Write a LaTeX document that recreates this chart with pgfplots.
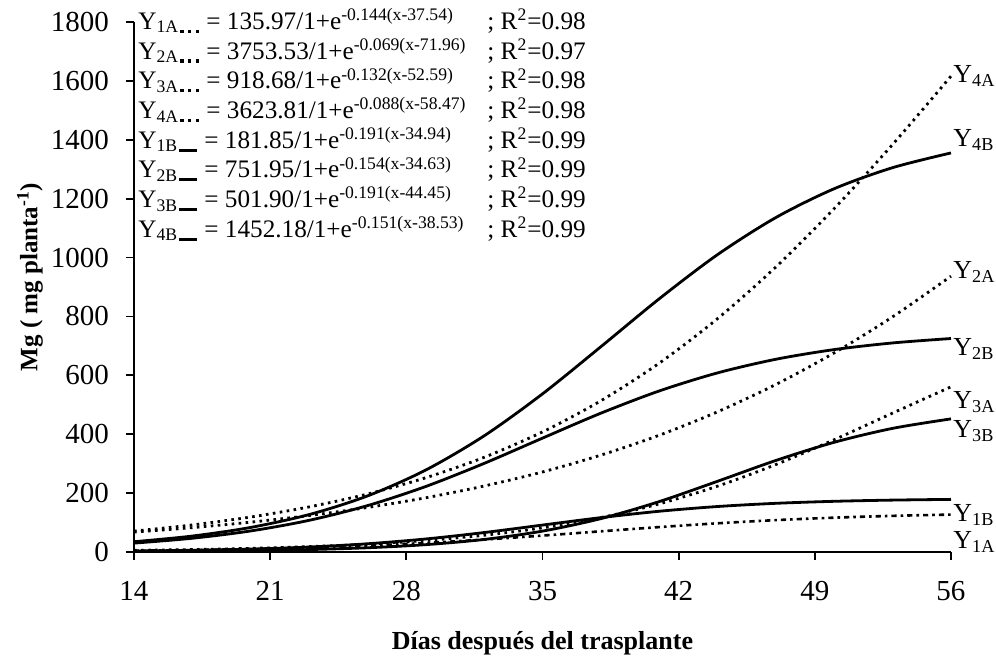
\documentclass[border=0pt]{standalone}
\usepackage{fontspec}
\setmainfont{Liberation Serif}
\usepackage{pgfplots}
\pgfplotsset{compat=1.18}
\newcommand{\dA}{\hspace{1pt}\rule{1.7pt}{1.7pt}\hspace{2.2pt}\rule{1.7pt}{1.7pt}\hspace{2.2pt}\rule{1.7pt}{1.7pt}}
\newcommand{\dB}{\hspace{1pt}\rule{9pt}{1.5pt}}
\newcommand{\eqfont}{\fontsize{12.6}{14}\selectfont}
\newcommand{\lblfont}{\fontsize{13}{15}\selectfont}
\newcommand{\tickfont}{\fontsize{14.5}{17}\selectfont}
\begin{document}
\begin{tikzpicture}
\begin{axis}[
  width=408.5pt, height=265pt, scale only axis,
  xmin=14, xmax=56, ymin=0, ymax=1800,
  xtick={14,21,28,35,42,49,56},
  ytick={0,200,400,600,800,1000,1200,1400,1600,1800},
  axis lines*=left,
  axis line style={line width=1pt},
  tick align=outside,
  major tick length=4pt,
  tick style={black, line width=0.9pt},
  ticklabel style={font=\tickfont},
  /pgf/number format/assume math mode=true,
  /pgf/number format/1000 sep={},
  xticklabel style={yshift=-7pt},
  yticklabel style={xshift=-5pt},
  xlabel={\textbf{Días después del trasplante}},
  ylabel={\textbf{Mg ( mg planta\textsuperscript{-1})}},
  xlabel style={font=\fontsize{13}{15}\selectfont, at={(axis description cs:0.5,0)}, anchor=center, yshift=-45.5pt},
  ylabel style={font=\fontsize{12.5}{14}\selectfont, at={(axis description cs:0,0.5)}, anchor=center, yshift=52pt, xshift=5pt},
  clip=false,
  solidB/.style={black, line width=1.4pt, smooth},
  dotA/.style={black, line width=1.4pt, dash pattern=on 1.3pt off 2.2pt, smooth},
]
% A series (dotted)
\addplot[black, line width=1.3pt, dash pattern=on 2.6pt off 2pt on 1.3pt off 2pt, smooth] coordinates {(14,4.43)(17,6.71)(20,10.07)(23,14.91)(26,21.69)(29,30.76)(32,42.21)(35,55.68)(38,70.23)(41,84.57)(44,97.50)(47,108.25)(50,116.58)(53,122.73)(56,127.06)};
\addplot[dotA] coordinates {(14,67.57)(17,82.77)(20,101.31)(23,123.84)(26,151.17)(29,184.18)(32,224.09)(35,271.8)(38,328.97)(41,396.5)(44,476.2)(47,569.1)(50,676.4)(53,798.8)(56,936.7)};
\addplot[dotA] coordinates {(14,5.60)(17,8.30)(20,12.27)(23,18.12)(26,26.67)(29,39.08)(32,56.88)(35,82.05)(38,116.85)(41,163.52)(44,223.63)(47,297.1)(50,381.5)(53,471.8)(56,561.0)};
\addplot[dotA] coordinates {(14,70.99)(17,91.88)(20,118.74)(23,153.1)(26,196.8)(29,252.2)(32,321.6)(35,407.8)(38,513.6)(41,641.3)(44,792.6)(47,968.2)(50,1166.7)(53,1384.2)(56,1616.0)};
% B series (solid)
\addplot[solidB] coordinates {(14,3.27)(17,5.72)(20,9.90)(23,16.86)(26,27.90)(29,44.23)(32,66.05)(35,91.45)(38,116.75)(41,138.35)(44,154.46)(47,165.33)(50,172.14)(53,176.25)(56,178.65)};
\addplot[solidB] coordinates {(14,30.11)(17,46.70)(20,71.50)(23,107.48)(26,157.4)(29,222.5)(32,300.9)(35,386.7)(38,471.4)(41,546.9)(44,608.3)(47,654.6)(50,687.5)(53,710.0)(56,725.0)};
\addplot[solidB] coordinates {(14,1.49)(17,2.64)(20,4.66)(23,8.21)(26,14.37)(29,24.93)(32,42.60)(35,70.89)(38,113.35)(41,171.1)(44,240.2)(47,310.9)(50,372.7)(53,419.9)(56,452.1)};
\addplot[solidB] coordinates {(14,34.90)(17,54.15)(20,83.41)(23,127.0)(26,190.3)(29,278.4)(32,394.5)(35,537.0)(38,697.1)(41,859.9)(44,1010.0)(47,1136.0)(50,1233.9)(53,1305.3)(56,1355.3)};
% right-hand labels
\node[anchor=west, inner sep=1pt, font=\lblfont] at (axis cs:56,1616) {Y\textsubscript{4A}};
\node[anchor=west, inner sep=1pt, font=\lblfont] at (axis cs:56,1400) {Y\textsubscript{4B}};
\node[anchor=west, inner sep=1pt, font=\lblfont] at (axis cs:56,950) {Y\textsubscript{2A}};
\node[anchor=west, inner sep=1pt, font=\lblfont] at (axis cs:56,690) {Y\textsubscript{2B}};
\node[anchor=west, inner sep=1pt, font=\lblfont] at (axis cs:56,510) {Y\textsubscript{3A}};
\node[anchor=west, inner sep=1pt, font=\lblfont] at (axis cs:56,410) {Y\textsubscript{3B}};
\node[anchor=west, inner sep=1pt, font=\lblfont] at (axis cs:56,125) {Y\textsubscript{1B}};
\node[anchor=west, inner sep=1pt, font=\lblfont] at (axis cs:56,35) {Y\textsubscript{1A}};
% equations
\node[anchor=base west, inner sep=0pt, font=\eqfont, xshift=2pt] at (axis cs:14,1775) {Y\textsubscript{1A\dA} = 135.97/1+e\textsuperscript{-0.144(x-37.54)}};
\node[anchor=base west, inner sep=0pt, font=\eqfont, xshift=2pt] at (axis cs:14,1674) {Y\textsubscript{2A\dA} = 3753.53/1+e\textsuperscript{-0.069(x-71.96)}};
\node[anchor=base west, inner sep=0pt, font=\eqfont, xshift=2pt] at (axis cs:14,1573) {Y\textsubscript{3A\dA} = 918.68/1+e\textsuperscript{-0.132(x-52.59)}};
\node[anchor=base west, inner sep=0pt, font=\eqfont, xshift=2pt] at (axis cs:14,1472) {Y\textsubscript{4A\dA} = 3623.81/1+e\textsuperscript{-0.088(x-58.47)}};
\node[anchor=base west, inner sep=0pt, font=\eqfont, xshift=2pt] at (axis cs:14,1372) {Y\textsubscript{1B\dB} = 181.85/1+e\textsuperscript{-0.191(x-34.94)}};
\node[anchor=base west, inner sep=0pt, font=\eqfont, xshift=2pt] at (axis cs:14,1271) {Y\textsubscript{2B\dB} = 751.95/1+e\textsuperscript{-0.154(x-34.63)}};
\node[anchor=base west, inner sep=0pt, font=\eqfont, xshift=2pt] at (axis cs:14,1170) {Y\textsubscript{3B\dB} = 501.90/1+e\textsuperscript{-0.191(x-44.45)}};
\node[anchor=base west, inner sep=0pt, font=\eqfont, xshift=2pt] at (axis cs:14,1069) {Y\textsubscript{4B\dB} = 1452.18/1+e\textsuperscript{-0.151(x-38.53)}};
\node[anchor=base west, inner sep=0pt, font=\eqfont] at (axis cs:32.15,1775) {; R\textsuperscript{2}=0.98};
\node[anchor=base west, inner sep=0pt, font=\eqfont] at (axis cs:32.15,1674) {; R\textsuperscript{2}=0.97};
\node[anchor=base west, inner sep=0pt, font=\eqfont] at (axis cs:32.15,1573) {; R\textsuperscript{2}=0.98};
\node[anchor=base west, inner sep=0pt, font=\eqfont] at (axis cs:32.15,1472) {; R\textsuperscript{2}=0.98};
\node[anchor=base west, inner sep=0pt, font=\eqfont] at (axis cs:32.15,1372) {; R\textsuperscript{2}=0.99};
\node[anchor=base west, inner sep=0pt, font=\eqfont] at (axis cs:32.15,1271) {; R\textsuperscript{2}=0.99};
\node[anchor=base west, inner sep=0pt, font=\eqfont] at (axis cs:32.15,1170) {; R\textsuperscript{2}=0.99};
\node[anchor=base west, inner sep=0pt, font=\eqfont] at (axis cs:32.15,1069) {; R\textsuperscript{2}=0.99};
\coordinate (O) at (rel axis cs:0,0);
\end{axis}
\pgfresetboundingbox
\path (O) ++(-67pt,-52.5pt) rectangle ++(498pt,328.5pt);
\end{tikzpicture}
\end{document}
